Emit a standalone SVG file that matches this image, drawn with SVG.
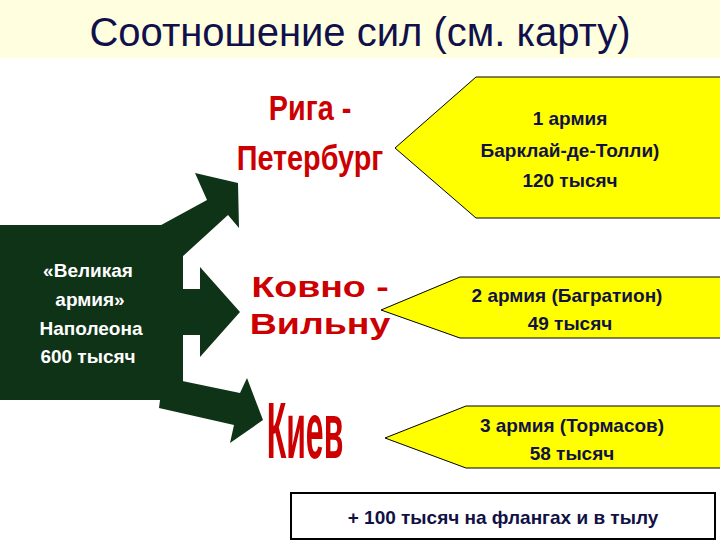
<svg xmlns="http://www.w3.org/2000/svg" width="720" height="540" viewBox="0 0 720 540">
<style>
.y{fill:#FFFF00;stroke:#000;stroke-width:1}
.yt{font-family:"Liberation Sans",Arial,sans-serif;font-weight:bold;font-size:19px;fill:#111144;text-anchor:middle}
.r{font-family:"Liberation Sans",Arial,sans-serif;font-weight:bold;fill:#CC0000;text-anchor:middle}
.g{fill:#0F3317}
</style>
<rect width="720" height="540" fill="#fff"/>
<rect x="0" y="0" width="720" height="58" fill="#FFFFE0"/>
<text x="360" y="46" font-family="Liberation Sans,Arial,sans-serif" font-size="40" fill="#10104A" text-anchor="middle">Соотношение сил (см. карту)</text>
<g id="connectors">
<polygon class="g" points="152,230 207,200 195,173 238,183 239,228 228,215 182,257"/>
<polygon class="g" points="183,289 200,289 200,267 240,312 200,357 200,335 183,335"/>
<polygon class="g" points="163,377 240,393 247,378 263,420 230,443 234,425 159,408"/>
</g>
<g id="grand-army">
<rect class="g" x="0" y="225" width="183" height="175"/>
<g font-family="Liberation Sans,Arial,sans-serif" font-size="19" font-weight="bold" fill="#fff" text-anchor="middle">
<text x="88" y="277">«Великая</text><text x="90" y="306">армия»</text><text x="91" y="335">Наполеона</text><text x="88" y="363">600 тысяч</text></g>
</g>
<g id="riga"><text class="r" font-size="36" transform="translate(310,120) scale(0.8,1)" x="0" y="0">Рига -</text>
<text class="r" font-size="36" transform="translate(310,170) scale(0.8,1)" x="0" y="0">Петербург</text></g>
<g id="kovno"><text class="r" font-size="30" transform="translate(320,297) scale(1.25,1)" x="0" y="0">Ковно -</text>
<text class="r" font-size="30" transform="translate(320,334) scale(1.25,1)" x="0" y="0">Вильну</text></g>
<g id="kiev"><text class="r" font-size="40" transform="translate(305,458) scale(0.8,2)" x="0" y="0">Киев</text></g>
<g id="army1"><polygon class="y" points="395,148 476,77 730,77 730,218 476,218"/>
<text class="yt" x="570" y="125">1 армия</text><text class="yt" x="570" y="157">Барклай-де-Толли)</text><text class="yt" x="570" y="187">120 тысяч</text></g>
<g id="army2"><polygon class="y" points="381,310 460,277 730,277 730,338 460,338"/>
<text class="yt" x="567" y="302">2 армия (Багратион)</text><text class="yt" x="570" y="330">49 тысяч</text></g>
<g id="army3"><polygon class="y" points="385,438 466,406 730,406 730,468 466,468"/>
<text class="yt" x="572" y="432">3 армия (Тормасов)</text><text class="yt" x="572" y="460">58 тысяч</text></g>
<g id="reserve"><rect x="291" y="493" width="424" height="46" fill="#fff" stroke="#000" stroke-width="2"/>
<text x="503" y="524" font-family="Liberation Sans,Arial,sans-serif" font-size="19" font-weight="bold" fill="#111144" text-anchor="middle">+ 100 тысяч на флангах и в тылу</text></g>
</svg>
